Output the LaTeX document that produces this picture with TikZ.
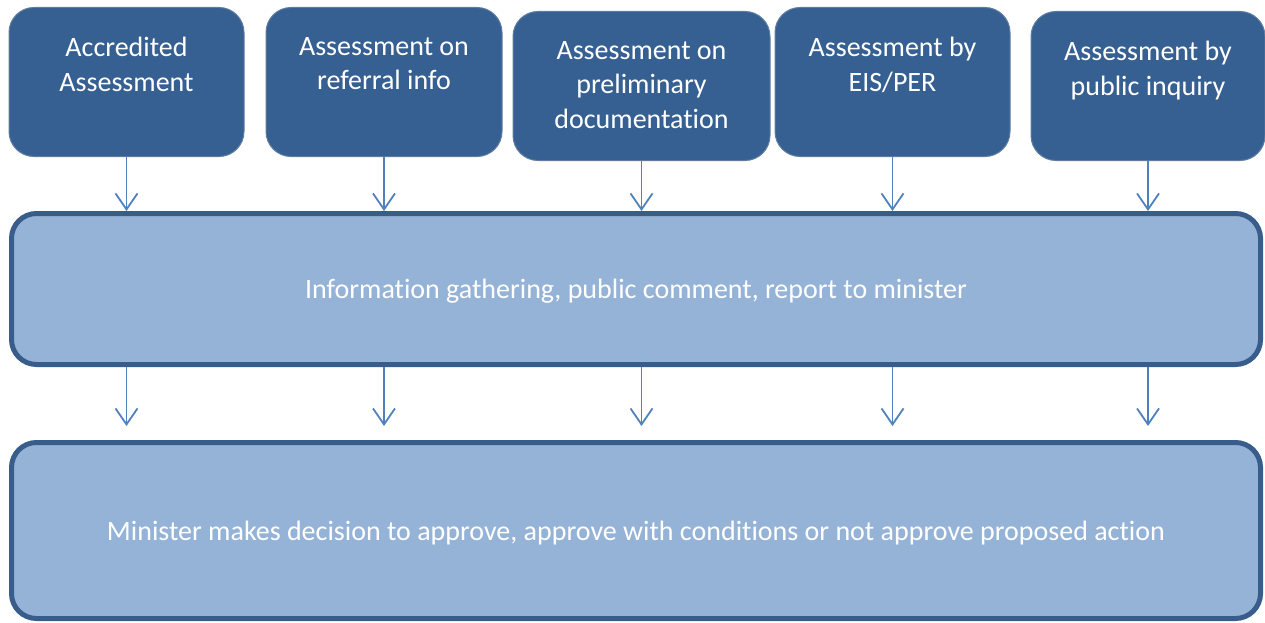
\documentclass[tikz,border=0pt]{standalone}
\usepackage{fontspec}
\setmainfont[Ligatures=NoCommon]{Carlito}
\usepackage{xcolor}
\usetikzlibrary{arrows.meta, positioning}

\definecolor{darkbox}{RGB}{55,96,146}
\definecolor{boxedge}{RGB}{56,93,138}
\definecolor{lightbox}{RGB}{149,179,215}
\definecolor{arrowblue}{RGB}{79,129,189}

\begin{document}
\begin{tikzpicture}[x=1pt, y=-1pt,
            every node/.style={font=\fontsize{28}{34.5}\selectfont, text=white},
            topbox/.style={draw=boxedge!80!white, line width=1pt, fill=darkbox,
                rounded corners=25pt, inner sep=0pt, anchor=north,
                execute at begin node={\begin{minipage}[c][149pt][t]{#1}\centering\vspace*{30pt}},
                execute at end node={\end{minipage}}},
            widebox/.style={draw=boxedge, line width=5pt, fill=lightbox,
                rounded corners=25pt, minimum width=1249pt, text depth=0pt},
            flow/.style={draw=arrowblue, line width=1.8pt,
                -{Straight Barb[length=16pt, width=22pt, line width=1.8pt]}},
        ]
        \useasboundingbox (0,0) rectangle (1265,623);
        \node[topbox=235pt] (a1) at (126.5,7) {Accredited\\Assessment};
        \node[topbox=236pt] (a2) at (384,7) {Assessment on\\referral info};
        \node[topbox=257pt] (a3) at (641.5,11) {Assessment on\\preliminary\\documentation};
        \node[topbox=235pt] (a4) at (892.5,7) {Assessment by\\EIS/PER};
        \node[topbox=234pt] (a5) at (1148,11) {Assessment by\\public inquiry};
        \node[widebox, minimum height=151pt] (gather) at (636,289)
            {Information gathering, public comment, report to minister};
        \node[widebox, minimum height=176pt] (decide) at (636,530.5)
            {Minister makes decision to approve, approve with conditions or not approve proposed action};
        \foreach \n in {a1,a2,a3,a4,a5} {
            \draw[flow] (\n.south) -- (\n.south |- gather.north);
            \draw[flow] (gather.south -| \n) -- ([yshift=14pt]decide.north -| \n);
        }
        \end{tikzpicture}
\end{document}
